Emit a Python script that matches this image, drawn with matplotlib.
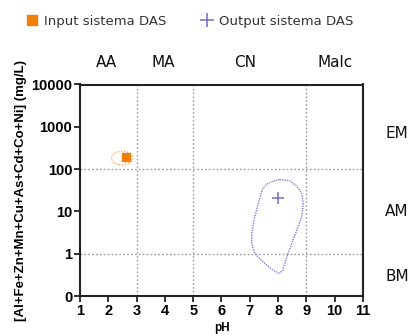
import numpy as np
import matplotlib
matplotlib.use("Agg")
import matplotlib.pyplot as plt
from matplotlib.patches import Ellipse
from matplotlib.lines import Line2D

# ---- data ----
x_ticks = [1, 2, 3, 4, 5, 6, 7, 8, 9, 10, 11]
y_tick_labels = ["0", "1", "10", "100", "1000", "10000"]
y_tick_log = [-1, 0, 1, 2, 3, 4]

input_ph = [2.63]
input_conc = [190]
output_ph = [8.0]
output_conc = [21]

# input ellipse (pH center, log10 center, width pH, height decades)
input_ellipse = (2.49, 2.26, 0.74, 0.33)

# output range outline (pH, log10 conc)
outline_ph = [8.067, 7.830, 7.597, 7.456, 7.385, 7.265, 7.148, 7.067, 7.067, 7.184, 7.477,
              7.830, 8.042, 8.163, 8.304, 8.481, 8.657, 8.834, 8.890, 8.834, 8.657, 8.420, 8.067]
outline_log = [1.754, 1.720, 1.642, 1.540, 1.382, 1.104, 0.789, 0.474, 0.237, 0.0, -0.199,
               -0.396, -0.460, -0.396, -0.081, 0.237, 0.552, 0.867, 1.185, 1.422, 1.595, 1.720, 1.754]

ph_grid = [3, 5, 9]
conc_grid_log = [2, 0]

top_labels = ["AA", "MA", "CN", "Malc"]
top_label_ph = [1.93, 3.93, 6.83, 10.03]
right_labels = ["EM", "AM", "BM"]
right_label_log = [2.85, 1.0, -0.55]

orange = "#F07F09"
purple = "#7B68C8"

fig = plt.figure(figsize=(4.10, 3.36), dpi=100)
ax = fig.add_axes([80/410, 1-296/336, (363-80)/410, (296-84.5)/336])

ax.set_xlim(1, 11)
ax.set_ylim(-1, 4)

for g in ph_grid:
    ax.axvline(g, color="#9a9a9a", lw=1.0, ls=(0, (1.2, 1.6)), zorder=1)
for g in conc_grid_log:
    ax.axhline(g, color="#9a9a9a", lw=1.0, ls=(0, (1.2, 1.6)), zorder=1)

cx, cy, ew, eh = input_ellipse
ax.add_patch(Ellipse((cx, cy), ew, eh, fill=False, edgecolor="#F5AE6A", lw=1.0,
                     ls=(0, (1, 1.2)), zorder=2))
ax.plot(input_ph, np.log10(input_conc), marker="s", ms=6, color=orange, ls="none", zorder=3)

ax.plot(outline_ph, outline_log, color="#8878D8", lw=1.0, ls=(0, (1, 0.8)), zorder=2)
ax.plot(output_ph, np.log10(output_conc), marker="+", ms=8, mew=1.1, color=purple, ls="none", zorder=3)

ax.set_xticks(x_ticks)
ax.set_yticks(y_tick_log)
ax.set_yticklabels(y_tick_labels)
for lab in ax.get_xticklabels() + ax.get_yticklabels():
    lab.set_fontfamily("Liberation Sans")
    lab.set_fontweight("bold")
    lab.set_fontsize(10.5)
ax.tick_params(direction="out", length=4, width=1.3, color="#222222", pad=1.5)

for sp in ax.spines.values():
    sp.set_linewidth(1.5)
    sp.set_color("#222222")

ax.set_xlabel("pH", fontsize=8.5, fontweight="bold", family="Liberation Sans", labelpad=3)
ax.set_ylabel("[Al+Fe+Zn+Mn+Cu+As+Cd+Co+Ni] (mg/L)", fontsize=9.5, fontweight="bold",
              family="Liberation Sans", labelpad=3)

for t, p in zip(top_labels, top_label_ph):
    ax.text(p, 4.53, t, ha="center", va="center", fontsize=11, color="#111111",
            transform=ax.transData)
for t, p in zip(right_labels, right_label_log):
    ax.text(12.2, p, t, ha="center", va="center", fontsize=11, color="#111111",
            transform=ax.transData, clip_on=False)

handles = [Line2D([], [], marker="s", color=orange, ls="none", ms=7),
           Line2D([], [], marker="+", color=purple, ls="none", ms=10, mew=1.1)]
fig.legend(handles, ["Input sistema DAS", "Output sistema DAS"], loc="center left",
           bbox_to_anchor=(12/410, 1-21/336), ncol=2, frameon=False, fontsize=9.5,
           handletextpad=0.3, columnspacing=2.5, handlelength=1.2,
           labelcolor="#333333")

fig.savefig("out.png", dpi=100)
